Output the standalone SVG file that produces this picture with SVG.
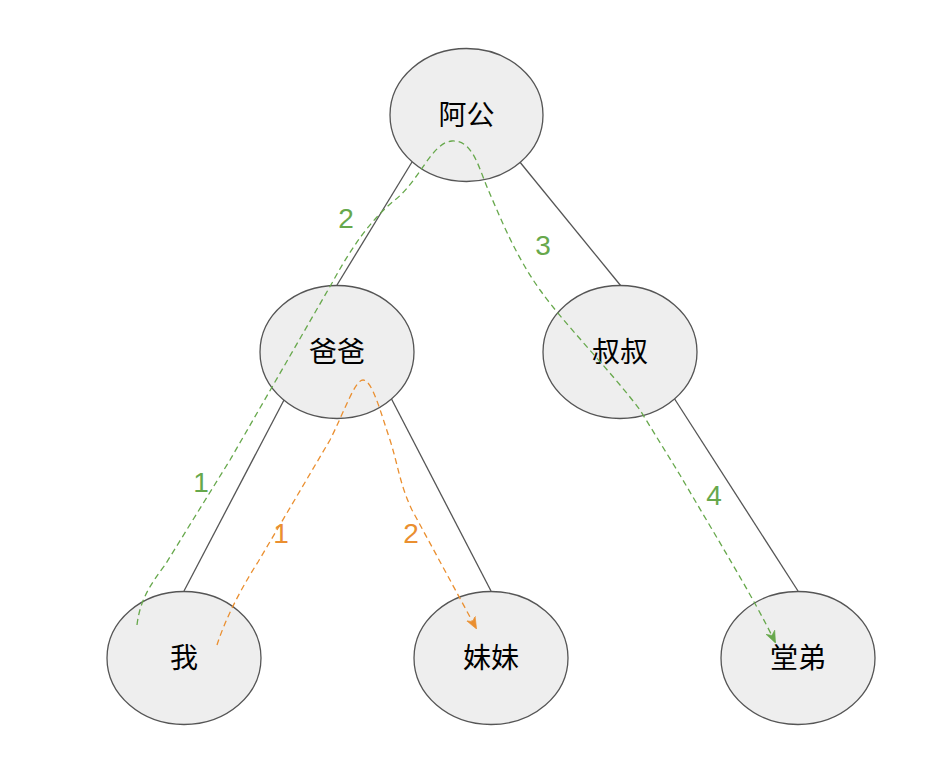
<svg xmlns="http://www.w3.org/2000/svg" width="931" height="763" viewBox="0 0 931 763">
<style>
.node ellipse{fill:#eeeeee;stroke:#555555;stroke-width:1.3}
.node text{font-family:"Noto Sans CJK SC","Liberation Sans",sans-serif;font-size:28px;fill:#000;text-anchor:middle}
.edge{stroke:#555555;stroke-width:1.3;fill:none}
.g{stroke:#67a84c;stroke-width:1.3;fill:none;stroke-dasharray:6 4}
.o{stroke:#ea8f30;stroke-width:1.3;fill:none;stroke-dasharray:6 4}
.lbl{font-family:"Liberation Sans",Arial,sans-serif;font-size:28px;text-anchor:middle}
</style>
<defs>
<marker id="ag" viewBox="0 0 10 10" refX="9" refY="5" markerWidth="12" markerHeight="12" orient="auto" markerUnits="userSpaceOnUse"><path d="M0,1 L10,5 L0,9 L3,5 Z" fill="#67a84c" stroke="#67a84c" stroke-width="0.5"/></marker>
<marker id="ao" viewBox="0 0 10 10" refX="9" refY="5" markerWidth="12" markerHeight="12" orient="auto" markerUnits="userSpaceOnUse"><path d="M0,1 L10,5 L0,9 L3,5 Z" fill="#ea8f30" stroke="#ea8f30" stroke-width="0.5"/></marker>
</defs>
<g id="edges">
<line class="edge" x1="412" y1="162" x2="337" y2="285"/>
<line class="edge" x1="519" y1="161" x2="621" y2="286"/>
<line class="edge" x1="284" y1="400" x2="184" y2="591"/>
<line class="edge" x1="391" y1="398" x2="491" y2="591"/>
<line class="edge" x1="674" y1="398" x2="798" y2="591"/>
</g>
<g id="n-agong" class="node"><ellipse cx="466.5" cy="115" rx="76.5" ry="66.5"/><text x="466.5" y="125">阿公</text></g>
<g id="n-baba" class="node"><ellipse cx="337" cy="352" rx="77" ry="66.5"/><text x="337" y="362">爸爸</text></g>
<g id="n-shushu" class="node"><ellipse cx="620" cy="352" rx="77" ry="66.5"/><text x="620" y="362">叔叔</text></g>
<g id="n-wo" class="node"><ellipse cx="184" cy="658" rx="77" ry="66.5"/><text x="184" y="668">我</text></g>
<g id="n-meimei" class="node"><ellipse cx="491" cy="658" rx="77" ry="66.5"/><text x="491" y="668">妹妹</text></g>
<g id="n-tangdi" class="node"><ellipse cx="798" cy="658" rx="77" ry="66.5"/><text x="798" y="668">堂弟</text></g>
<g id="connectors">
<path class="g" marker-end="url(#ag)" d="M137,625 C140,600 150,585 165,565 L230,460 L332,283 C350,250 370,220 395,200 C420,180 432,142 452,141 C472,140 478,165 487,187 C500,217 515,255 540,290 C565,325 610,370 640,410 L680,475 C715,535 755,600 775,642"/>
<path class="o" marker-end="url(#ao)" d="M217,645 C225,620 240,590 258,562 L330,440 C345,410 355,380 363,380 C372,380 380,410 390,440 C398,465 400,485 412,510 L476,628"/>
</g>
<g id="labels">
<text class="lbl" x="201" y="492" fill="#67a84c">1</text>
<text class="lbl" x="346" y="228" fill="#67a84c">2</text>
<text class="lbl" x="543" y="255" fill="#67a84c">3</text>
<text class="lbl" x="714" y="505" fill="#67a84c">4</text>
<text class="lbl" x="281" y="543" fill="#ea8f30">1</text>
<text class="lbl" x="411" y="543" fill="#ea8f30">2</text>
</g>
</svg>
